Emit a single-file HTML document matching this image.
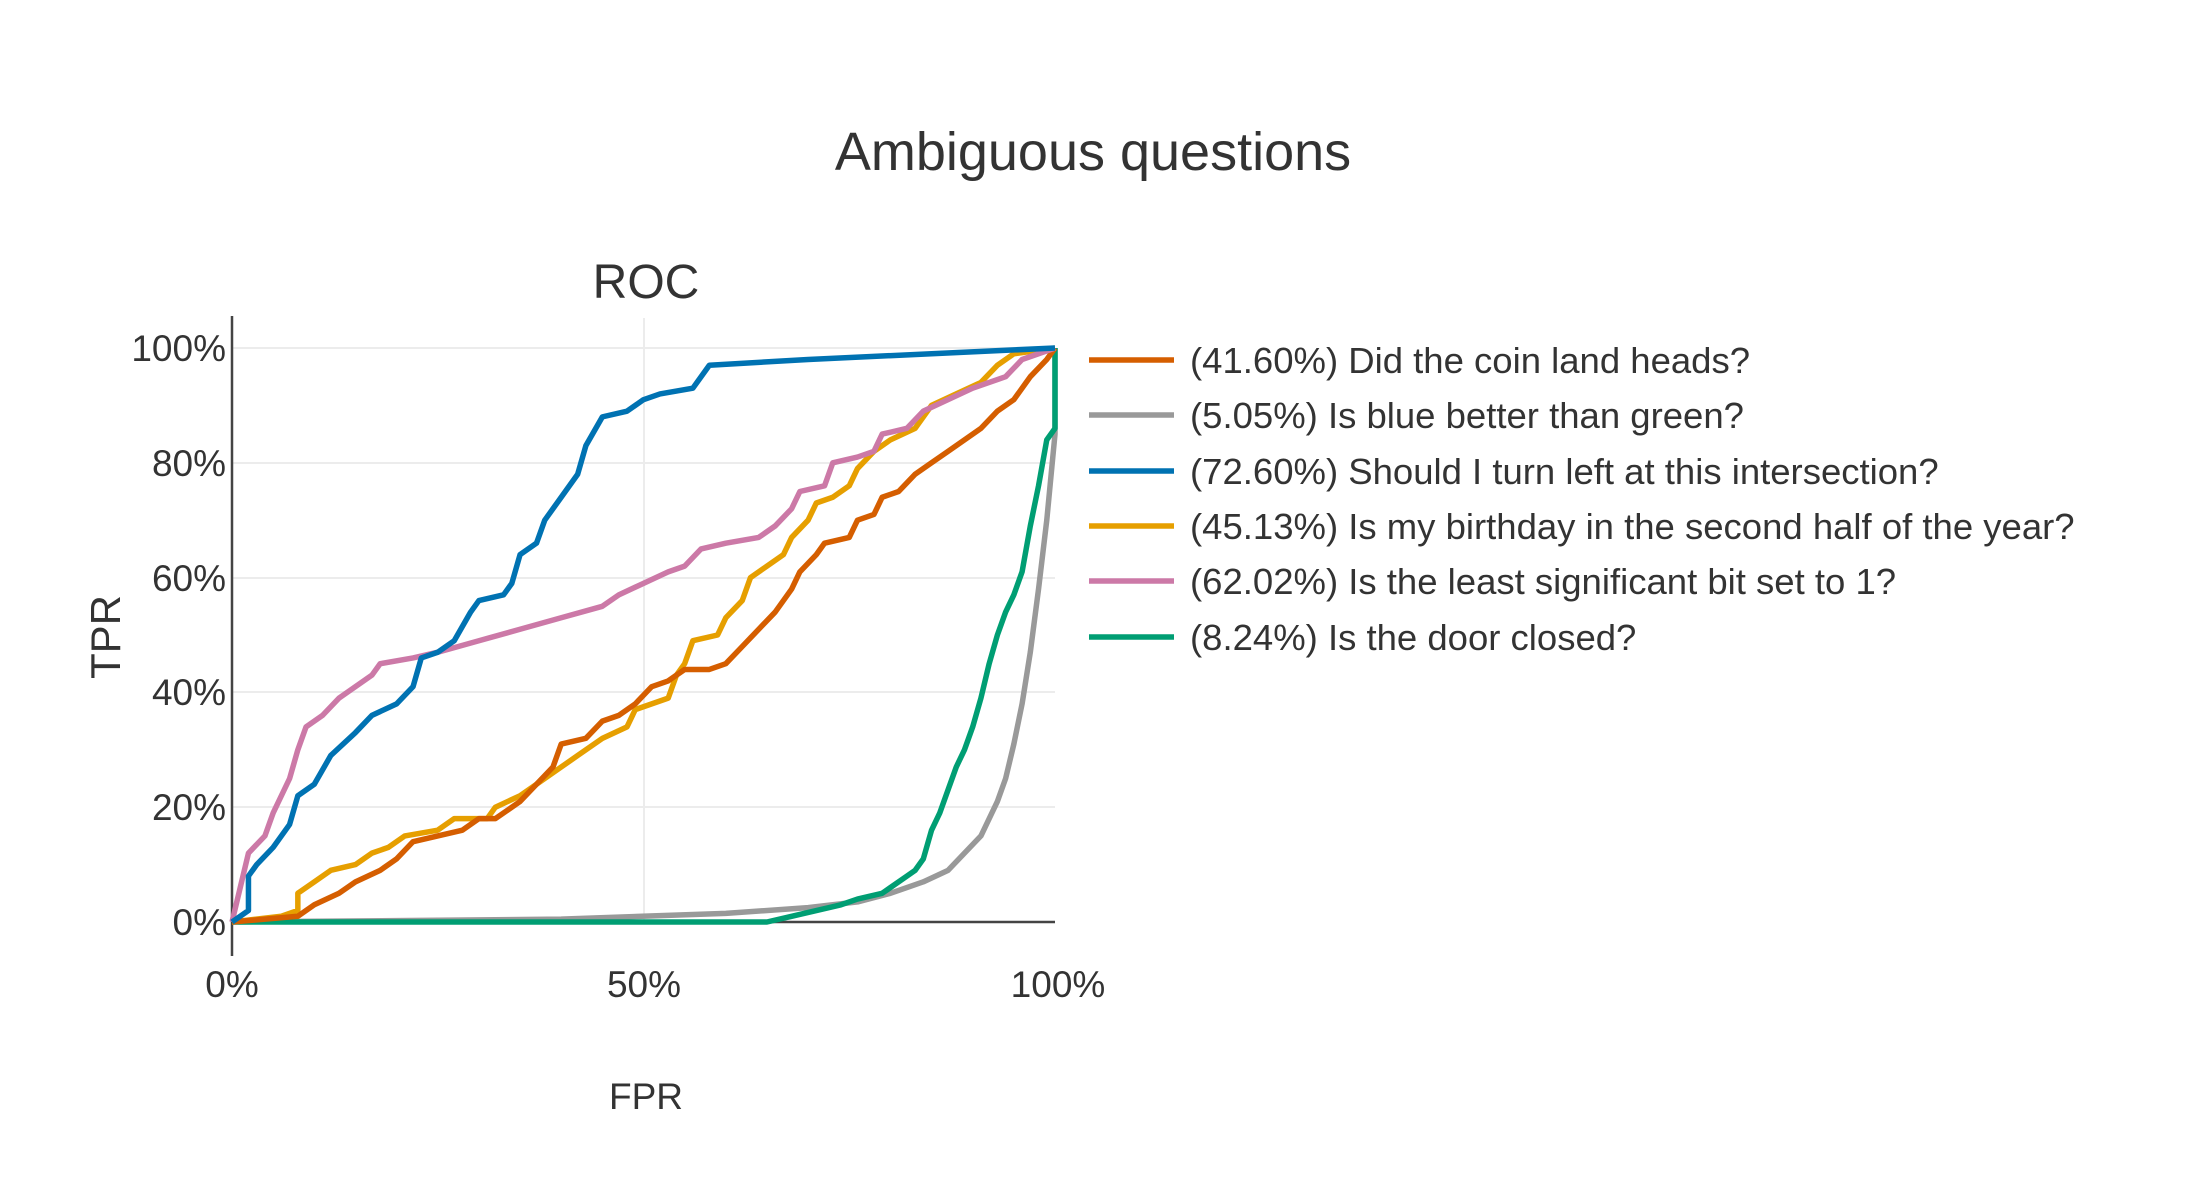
<!DOCTYPE html>
<html><head><meta charset="utf-8"><style>
body{margin:0;background:#fff}
svg{display:block}
text{font-family:"Liberation Sans",sans-serif;fill:#333}
</style></head><body>
<svg width="2200" height="1200" viewBox="0 0 2200 1200">
<text x="1093" y="170" font-size="54" text-anchor="middle">Ambiguous questions</text>
<text x="646" y="298" font-size="48" text-anchor="middle">ROC</text>
<g stroke="#ececec" stroke-width="2">
<line x1="232" x2="1055" y1="348" y2="348"/><line x1="232" x2="1055" y1="463" y2="463"/>
<line x1="232" x2="1055" y1="578" y2="578"/><line x1="232" x2="1055" y1="692" y2="692"/>
<line x1="232" x2="1055" y1="807" y2="807"/><line x1="644" x2="644" y1="318" y2="922"/>
</g>
<line x1="232" x2="232" y1="316" y2="956" stroke="#444" stroke-width="2.5"/>
<line x1="232" x2="1055" y1="922" y2="922" stroke="#444" stroke-width="2.5"/>
<g font-size="37" text-anchor="end">
<text x="226" y="361">100%</text><text x="226" y="476">80%</text><text x="226" y="591">60%</text>
<text x="226" y="705">40%</text><text x="226" y="820">20%</text><text x="226" y="935">0%</text>
</g>
<g font-size="37" text-anchor="middle">
<text x="232" y="997">0%</text><text x="644" y="997">50%</text><text x="1058" y="997">100%</text>
<text x="646" y="1109">FPR</text>
</g>
<text transform="translate(120,637) rotate(-90)" font-size="42" text-anchor="middle">TPR</text>
<g transform="translate(232,922) scale(823,-574)" fill="none" stroke-width="5.5" stroke-linejoin="round">
<polyline vector-effect="non-scaling-stroke" stroke="#999" points="0,0 0.4,0.005 0.6,0.015 0.7,0.025 0.76,0.035 0.8,0.05 0.84,0.07 0.87,0.09 0.89,0.12 0.91,0.15 0.92,0.18 0.93,0.21 0.94,0.25 0.95,0.31 0.96,0.38 0.97,0.47 0.98,0.58 0.99,0.7 1,0.85 1,1"/>
<polyline vector-effect="non-scaling-stroke" stroke="#009e73" points="0,0 0.65,0 0.68,0.01 0.71,0.02 0.74,0.03 0.76,0.04 0.79,0.05 0.8,0.06 0.82,0.08 0.83,0.09 0.84,0.11 0.85,0.16 0.86,0.19 0.87,0.23 0.88,0.27 0.89,0.3 0.9,0.34 0.91,0.39 0.92,0.45 0.93,0.5 0.94,0.54 0.95,0.57 0.96,0.61 0.97,0.69 0.98,0.76 0.99,0.84 1,0.86 1,1"/>
<polyline vector-effect="non-scaling-stroke" stroke="#e69f00" points="0,0 0.06,0.01 0.08,0.02 0.08,0.05 0.1,0.07 0.12,0.09 0.15,0.1 0.17,0.12 0.19,0.13 0.21,0.15 0.25,0.16 0.27,0.18 0.31,0.18 0.32,0.2 0.35,0.22 0.38,0.25 0.4,0.27 0.42,0.29 0.45,0.32 0.48,0.34 0.49,0.37 0.53,0.39 0.54,0.43 0.55,0.45 0.56,0.49 0.59,0.5 0.6,0.53 0.62,0.56 0.63,0.6 0.65,0.62 0.67,0.64 0.68,0.67 0.7,0.7 0.71,0.73 0.73,0.74 0.75,0.76 0.76,0.79 0.78,0.82 0.8,0.84 0.83,0.86 0.84,0.88 0.85,0.9 0.88,0.92 0.91,0.94 0.93,0.97 0.95,0.99 1,1"/>
<polyline vector-effect="non-scaling-stroke" stroke="#d55e00" points="0,0 0.08,0.01 0.1,0.03 0.13,0.05 0.15,0.07 0.18,0.09 0.2,0.11 0.22,0.14 0.25,0.15 0.28,0.16 0.3,0.18 0.32,0.18 0.35,0.21 0.37,0.24 0.39,0.27 0.4,0.31 0.43,0.32 0.45,0.35 0.47,0.36 0.49,0.38 0.51,0.41 0.53,0.42 0.55,0.44 0.58,0.44 0.6,0.45 0.62,0.48 0.64,0.51 0.66,0.54 0.68,0.58 0.69,0.61 0.71,0.64 0.72,0.66 0.75,0.67 0.76,0.7 0.78,0.71 0.79,0.74 0.81,0.75 0.83,0.78 0.85,0.8 0.87,0.82 0.89,0.84 0.91,0.86 0.93,0.89 0.95,0.91 0.97,0.95 0.99,0.98 1,1"/>
<polyline vector-effect="non-scaling-stroke" stroke="#cc79a7" points="0,0 0.01,0.06 0.02,0.12 0.04,0.15 0.05,0.19 0.07,0.25 0.08,0.3 0.09,0.34 0.11,0.36 0.13,0.39 0.15,0.41 0.17,0.43 0.18,0.45 0.22,0.46 0.25,0.47 0.3,0.49 0.35,0.51 0.4,0.53 0.45,0.55 0.47,0.57 0.5,0.59 0.53,0.61 0.55,0.62 0.57,0.65 0.6,0.66 0.64,0.67 0.66,0.69 0.68,0.72 0.69,0.75 0.72,0.76 0.73,0.8 0.76,0.81 0.78,0.82 0.79,0.85 0.82,0.86 0.84,0.89 0.87,0.91 0.9,0.93 0.94,0.95 0.96,0.98 0.98,0.99 1,1"/>
<polyline vector-effect="non-scaling-stroke" stroke="#0072b2" points="0,0 0.02,0.02 0.02,0.08 0.03,0.1 0.05,0.13 0.07,0.17 0.08,0.22 0.1,0.24 0.12,0.29 0.15,0.33 0.17,0.36 0.2,0.38 0.22,0.41 0.23,0.46 0.25,0.47 0.27,0.49 0.29,0.54 0.3,0.56 0.33,0.57 0.34,0.59 0.35,0.64 0.37,0.66 0.38,0.7 0.4,0.74 0.42,0.78 0.43,0.83 0.45,0.88 0.48,0.89 0.5,0.91 0.52,0.92 0.56,0.93 0.58,0.97 0.7,0.98 0.85,0.99 1,1"/>
</g>
<g stroke-width="5.5">
<line x1="1089" x2="1174" y1="360" y2="360" stroke="#d55e00"/>
<line x1="1089" x2="1174" y1="415" y2="415" stroke="#999"/>
<line x1="1089" x2="1174" y1="471" y2="471" stroke="#0072b2"/>
<line x1="1089" x2="1174" y1="526" y2="526" stroke="#e69f00"/>
<line x1="1089" x2="1174" y1="581" y2="581" stroke="#cc79a7"/>
<line x1="1089" x2="1174" y1="637" y2="637" stroke="#009e73"/>
</g>
<g font-size="36.5">
<text x="1190" y="373">(41.60%) Did the coin land heads?</text>
<text x="1190" y="428">(5.05%) Is blue better than green?</text>
<text x="1190" y="484">(72.60%) Should I turn left at this intersection?</text>
<text x="1190" y="539">(45.13%) Is my birthday in the second half of the year?</text>
<text x="1190" y="594">(62.02%) Is the least significant bit set to 1?</text>
<text x="1190" y="650">(8.24%) Is the door closed?</text>
</g>
</svg>
</body></html>
